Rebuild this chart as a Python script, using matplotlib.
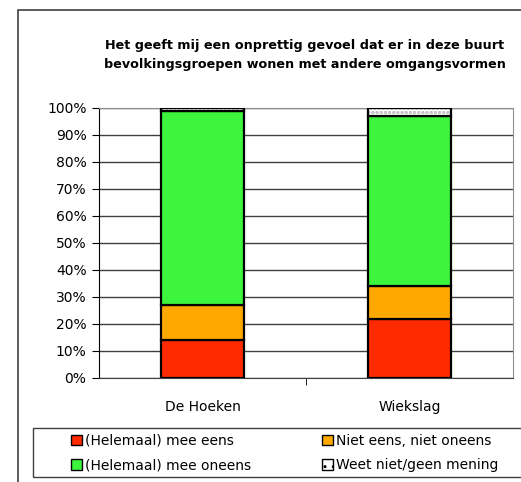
import matplotlib.pyplot as plt
import matplotlib.patches as mpatches
import numpy as np

# Data
categories = ['De Hoeken', 'Wiekslag']
eens = [14, 22]
neutraal = [13, 12]
oneens = [72, 63]
weet_niet = [1, 3]
labels = ['(Helemaal) mee eens', 'Niet eens, niet oneens',
          '(Helemaal) mee oneens', 'Weet niet/geen mening']
title = ('Het geeft mij een onprettig gevoel dat er in deze buurt\n'
         'bevolkingsgroepen wonen met andere omgangsvormen')

RED = '#ff2a00'
ORANGE = '#ffa800'
GREEN = '#3cf53c'

plt.rcParams['font.family'] = ['DejaVu Sans']
plt.rcParams['hatch.color'] = '#c8c8c8'

fig = plt.figure(figsize=(5.21, 4.82), dpi=100)
ax = fig.add_axes([0.190, 0.216, 0.795, 0.560])

x = np.arange(len(categories))
w = 0.4
bottom = np.zeros(len(categories))
for vals, col in [(eens, RED), (neutraal, ORANGE), (oneens, GREEN)]:
    ax.bar(x, vals, w, bottom=bottom, color=col, edgecolor='black', linewidth=1.6, zorder=3)
    bottom += np.array(vals)
# checkered "weet niet" segment: hatch then outline
ax.bar(x, weet_niet, w, bottom=bottom, color='white', hatch='oooo', linewidth=0, zorder=3)
ax.bar(x, weet_niet, w, bottom=bottom, fill=False, edgecolor='black', linewidth=1.6, zorder=4)

ax.set_xlim(-0.5, 1.5)
ax.set_ylim(0, 100)
ax.set_yticks(range(0, 101, 10))
ax.set_yticklabels([f'{v}%' for v in range(0, 101, 10)], fontsize=10)
ax.yaxis.grid(True, color='#404040', linewidth=1, zorder=0)
ax.set_xticks(x)
ax.set_xticklabels(categories, fontsize=10)
ax.set_xticks([0.5], minor=True)
ax.tick_params(axis='x', which='major', length=0, pad=16)
ax.tick_params(axis='x', which='minor', length=5, color='black')
ax.tick_params(axis='y', length=5, pad=4)
for side in ['top', 'right']:
    ax.spines[side].set_color('#909090')
ax.spines['left'].set_color('black')
ax.spines['bottom'].set_color('#404040')

fig.text(0.585, 0.886, title, ha='center', va='center', fontsize=9.2,
         fontweight='bold', linespacing=1.6)

# outer chart frame and legend box
fig.add_artist(mpatches.Rectangle((18 / 521, -0.05), 1.0, 1 - 10 / 482 + 0.05,
                                  transform=fig.transFigure, fill=False,
                                  edgecolor='#404040', linewidth=1.2, clip_on=False))
fig.add_artist(mpatches.Rectangle((33 / 521, 1 - 477 / 482), 1.0, 49 / 482,
                                  transform=fig.transFigure, fill=False,
                                  edgecolor='#404040', linewidth=1, clip_on=False))

handles = [mpatches.Patch(facecolor=RED, edgecolor='black'),
           mpatches.Patch(facecolor=GREEN, edgecolor='black'),
           mpatches.Patch(facecolor=ORANGE, edgecolor='black'),
           mpatches.Patch(facecolor='white', edgecolor='black', hatch='..')]
order = [labels[0], labels[2], labels[1], labels[3]]
fig.legend(handles, order, ncol=2, loc='upper left',
           bbox_to_anchor=(71 / 521, 1 - 434 / 482), frameon=False, fontsize=10,
           handlelength=0.8, handleheight=0.8, handletextpad=0.2,
           columnspacing=5.1, labelspacing=0.75, borderpad=0, borderaxespad=0)

fig.savefig('out.png', dpi=100)
